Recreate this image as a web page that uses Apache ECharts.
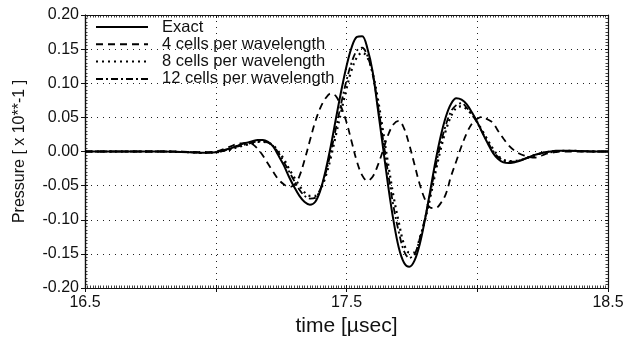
<!DOCTYPE html>
<html>
<head>
<meta charset="utf-8">
<script src="https://cdn.jsdelivr.net/npm/echarts@6/dist/echarts.min.js"></script>
<style>
  html, body { margin: 0; padding: 0; background: #fff; }
  #chart { width: 628px; height: 339px; }
</style>
</head>
<body>
<div id="chart"></div>
<script>
// Sample times [µsec]
const time = [
  16.5, 16.6, 16.7, 16.8, 16.85, 16.9, 16.95,
  17.00, 17.02, 17.04, 17.06, 17.08, 17.10, 17.12, 17.14, 17.16, 17.18,
  17.20, 17.22, 17.24, 17.26, 17.28, 17.30, 17.32, 17.34, 17.36, 17.38,
  17.40, 17.42, 17.44, 17.46, 17.48, 17.50, 17.52, 17.54, 17.56, 17.58,
  17.60, 17.62, 17.64, 17.66, 17.68, 17.70, 17.72, 17.74, 17.76, 17.78,
  17.80, 17.82, 17.84, 17.86, 17.88, 17.90, 17.92, 17.94, 17.96, 17.98,
  18.00, 18.02, 18.04, 18.06, 18.08, 18.10, 18.12, 18.14, 18.16, 18.18,
  18.20, 18.22, 18.24, 18.26, 18.28, 18.30, 18.32, 18.34, 18.36,
  18.40, 18.45, 18.5
];

// Pressure [x 10**-1], exact solution
const exact = [
  0, 0, 0, 0, -0.0005, -0.001, -0.002,
  -0.001, 0.001, 0.003, 0.005, 0.008, 0.011, 0.013, 0.015, 0.017, 0.017,
  0.014, 0.007, -0.006, -0.020, -0.037, -0.052, -0.065, -0.074, -0.078, -0.074,
  -0.057, -0.028, 0.008, 0.049, 0.089, 0.125, 0.153, 0.168, 0.169, 0.151,
  0.117, 0.062, 0.005, -0.052, -0.102, -0.141, -0.163, -0.169, -0.160, -0.136,
  -0.100, -0.058, -0.015, 0.022, 0.051, 0.070, 0.078, 0.076, 0.069, 0.057,
  0.043, 0.027, 0.012, -0.002, -0.011, -0.016, -0.017, -0.016, -0.014, -0.011,
  -0.008, -0.005, -0.003, -0.001, 0.000, 0.001, 0.001, 0.001, 0.001,
  0.0005, 0, 0
];

// 4 cells per wavelength
const cells4 = [
  0, 0, 0, 0, 0, -0.0005, -0.001,
  0.000, 0.002, 0.005, 0.008, 0.011, 0.012, 0.013, 0.011, 0.004, -0.006,
  -0.018, -0.030, -0.041, -0.048, -0.052, -0.049, -0.036, -0.012, 0.016, 0.043,
  0.064, 0.078, 0.085, 0.081, 0.065, 0.043, 0.014, -0.015, -0.035, -0.043,
  -0.037, -0.020, 0.002, 0.025, 0.040, 0.045, 0.034, 0.010, -0.019, -0.048,
  -0.070, -0.082, -0.083, -0.076, -0.062, -0.036, -0.014, 0.008, 0.027, 0.041,
  0.048, 0.051, 0.047, 0.042, 0.030, 0.019, 0.009, 0.002, -0.003, -0.006,
  -0.008, -0.009, -0.007, -0.004, -0.002, -0.001, 0, 0, 0,
  0, 0, 0
];

// 8 cells per wavelength
const cells8 = [
  0, 0, 0, 0, -0.0005, -0.001, -0.002,
  -0.001, 0.000, 0.002, 0.003, 0.006, 0.008, 0.010, 0.012, 0.014, 0.014,
  0.013, 0.009, 0.000, -0.011, -0.025, -0.038, -0.050, -0.060, -0.065, -0.065,
  -0.056, -0.037, -0.009, 0.025, 0.059, 0.092, 0.120, 0.138, 0.145, 0.138,
  0.115, 0.077, 0.029, -0.020, -0.066, -0.104, -0.136, -0.148, -0.148, -0.127,
  -0.101, -0.068, -0.031, 0.003, 0.031, 0.052, 0.064, 0.066, 0.062, 0.054,
  0.043, 0.030, 0.017, 0.004, -0.006, -0.012, -0.014, -0.014, -0.013, -0.011,
  -0.008, -0.006, -0.003, -0.002, -0.001, 0.000, 0.001, 0.001, 0.001,
  0.0005, 0, 0
];

// 12 cells per wavelength
const cells12 = [
  0, 0, 0, 0, -0.0005, -0.001, -0.002,
  -0.001, 0.000, 0.002, 0.004, 0.007, 0.009, 0.011, 0.013, 0.015, 0.015,
  0.013, 0.008, -0.002, -0.015, -0.029, -0.043, -0.056, -0.065, -0.069, -0.068,
  -0.055, -0.032, -0.001, 0.035, 0.071, 0.104, 0.131, 0.148, 0.152, 0.140,
  0.113, 0.068, 0.017, -0.034, -0.081, -0.118, -0.146, -0.156, -0.151, -0.128,
  -0.098, -0.062, -0.023, 0.011, 0.039, 0.059, 0.068, 0.071, 0.064, 0.054,
  0.042, 0.028, 0.014, 0.001, -0.008, -0.013, -0.015, -0.015, -0.013, -0.011,
  -0.008, -0.005, -0.003, -0.001, 0.000, 0.001, 0.001, 0.001, 0.001,
  0.0005, 0, 0
];

const seriesNames = ['Exact', '4 cells per wavelength', '8 cells per wavelength', '12 cells per wavelength'];
const xTickLabels = ['16.5', '17.5', '18.5'];

const FONT = 'Liberation Sans, Arial, sans-serif';
const INK = '#111';

const pairs = vals => time.map((t, i) => [t, vals[i]]);

const xBase = { min: 16.5, max: 18.5, interval: 0.5, gridIndex: 0 };
const yBase = { min: -0.2, max: 0.2, interval: 0.05, gridIndex: 0 };
const frameLine = { show: true, onZero: false, lineStyle: { color: INK, width: 1.2 } };
const minorInside = (n) => ({ show: true, splitNumber: n, length: 2.5, lineStyle: { color: INK, width: 0.8 } });

function line(name, vals, type, width) {
  return {
    name, type: 'line', data: pairs(vals),
    xAxisIndex: 0, yAxisIndex: 0,
    showSymbol: false, symbol: 'none', smooth: 0.35,
    lineStyle: { color: '#000', width, type, cap: 'butt' },
    itemStyle: { color: '#000' },
    emphasis: { disabled: true },
    animation: false
  };
}

const option = {
  backgroundColor: '#fff',
  animation: false,
  grid: { left: 85, top: 15, right: 20, bottom: 51, outerBoundsMode: 'none', containLabel: false },
  legend: {
    orient: 'vertical', left: 95, top: 18.5, padding: 0,
    itemWidth: 52, itemHeight: 15, itemGap: 0.3,
    itemStyle: { opacity: 0 },
    textStyle: { fontFamily: FONT, fontSize: 16.5, lineHeight: 15, color: INK, padding: [0, 0, 0, 9] },
    data: seriesNames
  },
  xAxis: [
    Object.assign({}, xBase, {
      type: 'value', position: 'bottom',
      name: 'time [\u00b5sec]', nameLocation: 'middle', nameGap: 24,
      nameTextStyle: { fontFamily: FONT, fontSize: 21, color: INK },
      axisLine: frameLine,
      axisTick: { show: true, inside: false, length: 4, lineStyle: { color: INK } },
      axisLabel: {
        fontFamily: FONT, fontSize: 16, color: INK, margin: 7,
        formatter: v => { const s = v.toFixed(1); return xTickLabels.includes(s) ? s : ''; }
      },
      splitLine: { show: true, lineStyle: { color: '#222', width: 1, type: [1, 5] } }
    }),
    Object.assign({}, xBase, {
      type: 'value', position: 'bottom',
      axisLine: frameLine,
      axisTick: { show: true, inside: true, length: 3, lineStyle: { color: INK } },
      minorTick: minorInside(50),
      axisLabel: { show: false }, splitLine: { show: false }
    }),
    Object.assign({}, xBase, {
      type: 'value', position: 'top',
      axisLine: frameLine,
      axisTick: { show: true, inside: true, length: 3, lineStyle: { color: INK } },
      minorTick: minorInside(50),
      axisLabel: { show: false }, splitLine: { show: false }
    })
  ],
  yAxis: [
    Object.assign({}, yBase, {
      type: 'value', position: 'left',
      name: 'Pressure [ x 10**-1 ]', nameLocation: 'middle', nameGap: 57, nameRotate: 90,
      nameTextStyle: { fontFamily: FONT, fontSize: 16, color: INK },
      axisLine: frameLine,
      axisTick: { show: true, inside: false, length: 4, lineStyle: { color: INK } },
      axisLabel: {
        fontFamily: FONT, fontSize: 16, color: INK, margin: 6,
        formatter: v => v.toFixed(2)
      },
      splitLine: { show: true, lineStyle: { color: '#222', width: 1, type: [1, 5] } }
    }),
    Object.assign({}, yBase, {
      type: 'value', position: 'left',
      axisLine: frameLine,
      axisTick: { show: true, inside: true, length: 3, lineStyle: { color: INK } },
      minorTick: minorInside(10),
      axisLabel: { show: false }, splitLine: { show: false }
    }),
    Object.assign({}, yBase, {
      type: 'value', position: 'right',
      axisLine: frameLine,
      axisTick: { show: true, inside: true, length: 3, lineStyle: { color: INK } },
      minorTick: minorInside(10),
      axisLabel: { show: false }, splitLine: { show: false }
    })
  ],
  series: [
    line(seriesNames[0], exact, 'solid', 2),
    line(seriesNames[1], cells4, [7, 5], 1.8),
    line(seriesNames[2], cells8, [2, 4], 2.2),
    line(seriesNames[3], cells12, [7, 3, 2, 3], 1.8)
  ]
};

const chart = echarts.init(document.getElementById('chart'), null, { renderer: 'canvas' });
chart.setOption(option);
</script>
</body>
</html>
